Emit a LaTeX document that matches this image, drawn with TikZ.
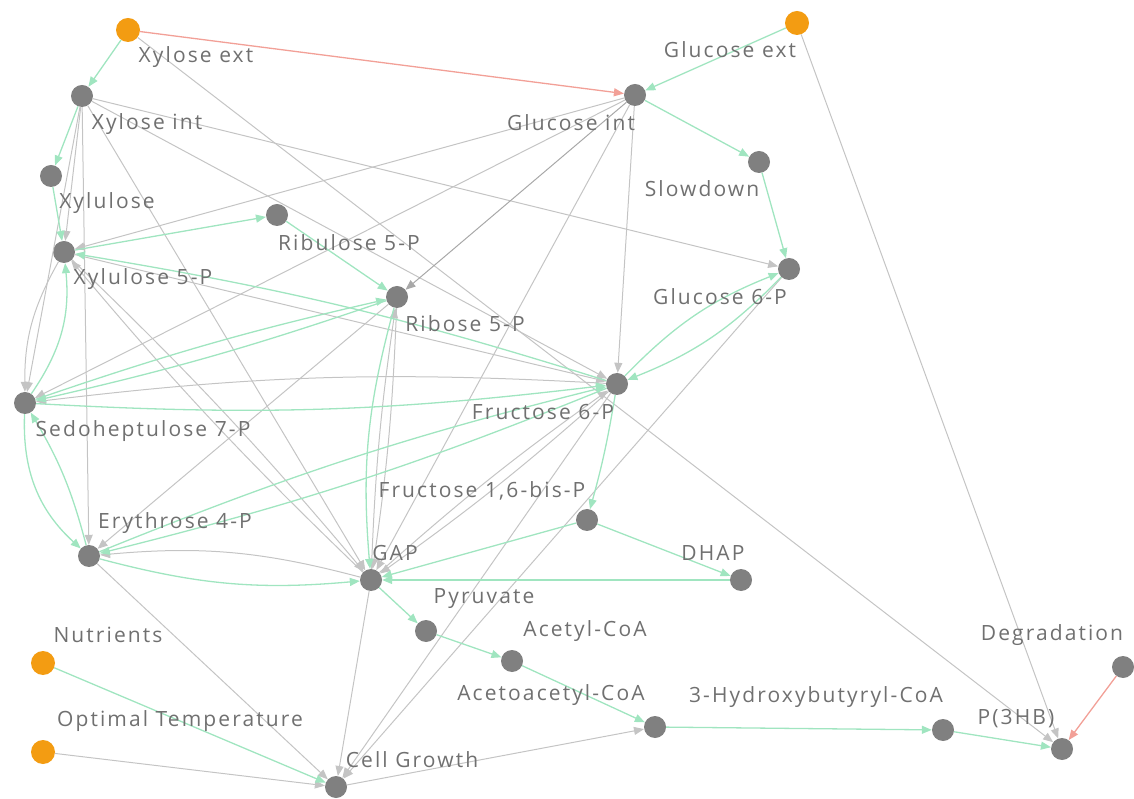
\documentclass[tikz,border=0pt]{standalone}
\usepackage{fontspec}
\newfontfamily\lblfont{Open Sans}[LetterSpace=10]
\usetikzlibrary{arrows.meta}
\definecolor{nodegray}{HTML}{808080}
\definecolor{nodeorange}{HTML}{F39C12}
\definecolor{edgegray}{HTML}{C4C4C4}
\definecolor{edgedark}{HTML}{A8A8A8}
\definecolor{edgegreen}{HTML}{A0E5C0}
\definecolor{edgered}{HTML}{F2A097}
\definecolor{txtgray}{HTML}{707070}
\tikzset{
  pn/.style={circle,fill=nodegray,minimum size=22pt,inner sep=0pt},
  on/.style={circle,fill=nodeorange,minimum size=24pt,inner sep=0pt},
  lbl/.style={text=txtgray,font=\lblfont\fontsize{21}{24}\selectfont,inner sep=0pt,anchor=center},
  ged/.style={draw=edgegray,line width=1pt,-{Triangle[length=10pt,width=8pt,fill=edgegray]}},
  gdd/.style={draw=edgedark,line width=1pt,-{Triangle[length=10pt,width=8pt,fill=edgedark]}},
  grn/.style={draw=edgegreen,line width=1.3pt,-{Triangle[length=10pt,width=8pt,fill=edgegreen]}},
  red/.style={draw=edgered,line width=1.3pt,-{Triangle[length=10pt,width=8pt,fill=edgered]}}
}
\begin{document}
\begin{tikzpicture}[x=1pt,y=1pt]
\useasboundingbox (0,0) rectangle (1134,798);
% nodes
\node[on] (xe) at (128,768) {};
\node[on] (ge) at (797,775) {};
\node[pn] (xi) at (82,702) {};
\node[pn] (gi) at (635,703) {};
\node[pn] (sd) at (759,636) {};
\node[pn] (xu) at (51,622) {};
\node[pn] (ru) at (277,583) {};
\node[pn] (x5) at (64,546) {};
\node[pn] (g6) at (789,529) {};
\node[pn] (r5) at (397,501) {};
\node[pn] (f6) at (617,414) {};
\node[pn] (s7) at (25,395) {};
\node[pn] (fb) at (587,278) {};
\node[pn] (e4) at (89,242) {};
\node[pn] (gap) at (371,218) {};
\node[pn] (dh) at (741,218) {};
\node[pn] (py) at (426,167) {};
\node[pn] (ac) at (512,137) {};
\node[on] (nu) at (43,135) {};
\node[pn] (dg) at (1123,131) {};
\node[pn] (aa) at (655,71) {};
\node[pn] (hb) at (943,68) {};
\node[on] (ot) at (43,46) {};
\node[pn] (p3) at (1062,49) {};
\node[pn] (cg) at (336,11) {};
% gray edges
\draw[ged] (xe) -- (p3);
\draw[ged] (ge) -- (p3);
\draw[ged] (xi) -- (g6);
\draw[ged] (xi) -- (f6);
\draw[ged] (xi) -- (gap);
\draw[ged] (xi) -- (s7);
\draw[ged] (xi) -- (e4);
\draw[ged] (xi) -- (x5);
\draw[ged] (gi) -- (x5);
\draw[ged] (gi) -- (s7);
\draw[gdd] (gi) -- (r5);
\draw[ged] (gi) -- (gap);
\draw[ged] (gi) -- (f6);
\draw[ged] (x5) -- (f6);
\draw[ged] (x5) to[bend left=3] (gap);
\draw[ged] (gap) to[bend left=3] (x5);
\draw[ged] (x5) to[bend right=15] (s7);
\draw[ged] (f6) to[bend right=5] (s7);
\draw[ged] (r5) -- (e4);
\draw[ged] (r5) to[bend left=3] (gap);
\draw[ged] (gap) to[bend left=3] (r5);
\draw[ged] (gap) to[bend left=3] (f6);
\draw[ged] (f6) to[bend left=3] (gap);
\draw[ged] (gap) to[bend right=10] (e4);
\draw[ged] (e4) -- (cg);
\draw[ged] (gap) -- (cg);
\draw[ged] (f6) -- (cg);
\draw[ged] (g6) -- (cg);
\draw[ged] (ot) -- (cg);
\draw[ged] (cg) -- (aa);
% green edges
\draw[grn] (xe) -- (xi);
\draw[grn] (ge) -- (gi);
\draw[grn] (gi) -- (sd);
\draw[grn] (sd) -- (g6);
\draw[grn] (xi) -- (xu);
\draw[grn] (xu) -- (x5);
\draw[grn] (x5) -- (ru);
\draw[grn] (ru) -- (r5);
\draw[grn] (f6) to[bend right=4] (x5);
\draw[grn] (s7) to[bend right=20] (x5);
\draw[grn] (s7) to[bend right=25] (e4);
\draw[grn] (e4) to[bend right=8] (s7);
\draw[grn] (s7) to[bend right=5] (f6);
\draw[grn] (s7) to[bend left=3] (r5);
\draw[grn] (r5) to[bend left=3] (s7);
\draw[grn] (e4) to[bend left=4] (f6);
\draw[grn] (f6) to[bend left=4] (e4);
\draw[grn] (r5) to[bend right=10] (gap);
\draw[grn] (e4) to[bend right=10] (gap);
\draw[grn] (g6) to[bend left=12] (f6);
\draw[grn] (f6) to[bend left=12] (g6);
\draw[grn] (f6) to[bend left=3] (fb);
\draw[grn] (fb) -- (gap);
\draw[grn] (fb) -- (dh);
\draw[grn] (dh) -- (gap);
\draw[grn] (gap) -- (py);
\draw[grn] (py) -- (ac);
\draw[grn] (ac) -- (aa);
\draw[grn] (aa) -- (hb);
\draw[grn] (hb) -- (p3);
\draw[grn] (nu) -- (cg);
% red edges
\draw[red] (xe) -- (gi);
\draw[red] (dg) -- (p3);
% labels
\node[lbl] (lxe) at (196,741) {Xylose ext};
\node[lbl] (lge) at (730,748) {Glucose ext};
\node[lbl] (lxi) at (147,674) {Xylose int};
\node[lbl] (lgi) at (571,675) {Glucose int};
\node[lbl] (lsd) at (702,609) {Slowdown};
\node[lbl] (lxu) at (107,595) {Xylulose};
\node[lbl] (lru) at (349,555) {Ribulose 5-P};
\node[lbl] (lx5) at (143,519) {Xylulose 5-P};
\node[lbl] (lg6) at (720,501) {Glucose 6-P};
\node[lbl] (lr5) at (465,474) {Ribose 5-P};
\node[lbl] (lf6) at (543,386) {Fructose 6-P};
\node[lbl] (ls7) at (143,367) {Sedoheptulose 7-P};
\node[lbl] (lfb) at (482,307) {Fructose 1,6-bis-P};
\node[lbl] (le4) at (175,275) {Erythrose 4-P};
\node[lbl] (lgap) at (395,245) {GAP};
\node[lbl] (ldh) at (713,245) {DHAP};
\node[lbl] (lpy) at (484,199) {Pyruvate};
\node[lbl] (lac) at (585,167) {Acetyl-CoA};
\node[lbl] (lnu) at (108,163) {Nutrients};
\node[lbl] (ldg) at (1052,163) {Degradation};
\node[lbl] (laa) at (551,103) {Acetoacetyl-CoA};
\node[lbl] (lhb) at (816,101) {3-Hydroxybutyryl-CoA};
\node[lbl] (lot) at (180,77) {Optimal Temperature};
\node[lbl] (lp3) at (1016,79) {P(3HB)};
\node[lbl] (lcg) at (412,38) {Cell Growth};
\end{tikzpicture}
\end{document}
